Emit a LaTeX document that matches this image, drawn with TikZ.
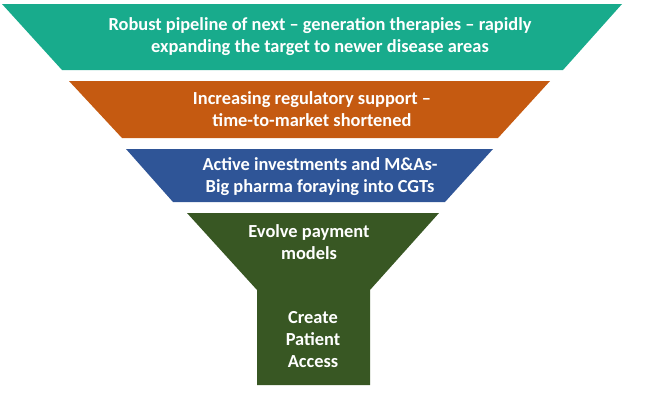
\documentclass[tikz,border=0pt]{standalone}
\usepackage{fontspec}
\setmainfont{Carlito}
\definecolor{cteal}{RGB}{24,171,140}
\definecolor{corange}{RGB}{197,90,17}
\definecolor{cblue}{RGB}{47,85,151}
\definecolor{cgreen}{RGB}{56,87,35}
\begin{document}
\begin{tikzpicture}[x=0.75pt,y=-0.75pt,
  lbl/.style={text=white,font=\fontsize{13.8}{16.5}\selectfont\bfseries,align=center,inner sep=0pt}]
\useasboundingbox (0,0) rectangle (653,412);
\fill[cteal] (2,4) -- (622,4) -- (563,70) -- (62,70) -- cycle;
\fill[corange] (69,81) -- (550,81) -- (498,138) -- (122,138) -- cycle;
\fill[cblue] (126,149) -- (493,149) -- (445,202) -- (173,202) -- cycle;
\fill[cgreen] (187,213) -- (439,213) -- (370,290) -- (370,385) -- (257,385) -- (257,290) -- cycle;
\node[lbl] (t1) at (320,37) {Robust pipeline of next -- generation therapies -- rapidly\\expanding the target to newer disease areas};
\node[lbl] (t2) at (312,109.5) {Increasing regulatory support --\\time-to-market shortened};
\node[lbl] (t3) at (320,177) {Active investments and M\&As-\\Big pharma foraying into CGTs};
\node[lbl] (t4) at (309,242.5) {Evolve payment\\models};
\node[lbl] (t5) at (313,340) {Create\\Patient\\Access};
\end{tikzpicture}
\end{document}
